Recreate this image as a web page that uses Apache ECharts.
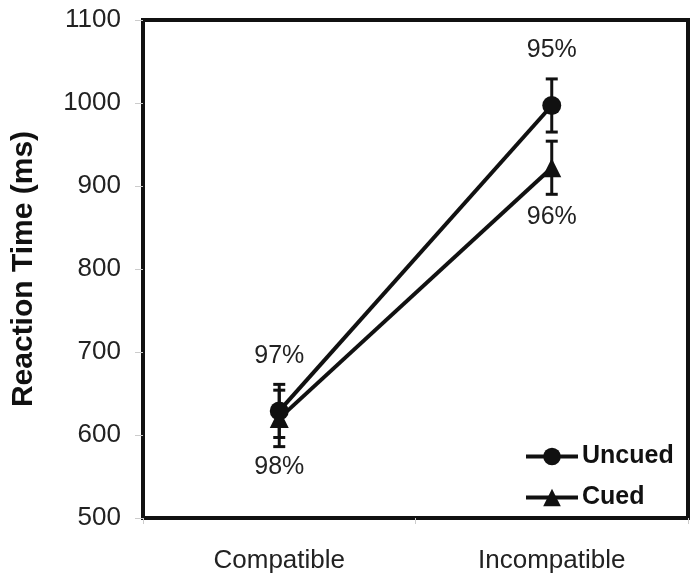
<!DOCTYPE html>
<html>
<head>
<meta charset="utf-8">
<script src="https://cdn.jsdelivr.net/npm/echarts@6/dist/echarts.min.js"></script>
<style>html,body{margin:0;padding:0;background:#fff}#c{width:700px;height:588px}</style>
</head>
<body>
<div id="c"></div>
<script>
const categories = ['Compatible', 'Incompatible'];
const uncuedMean = [629, 997];
const uncuedErr = [32, 32];
const uncuedAcc = ['97%', '95%'];
const cuedMean = [620, 922];
const cuedErr = [34, 32];
const cuedAcc = ['98%', '96%'];
const yTicks = [500, 600, 700, 800, 900, 1000, 1100];

const chart = echarts.init(document.getElementById('c'), null, {renderer: 'canvas'});
const font = 'Liberation Sans, Arial, sans-serif';

function errSeries(name, mean, err) {
  return {
    name: name + ' err',
    type: 'custom',
    z: 1,
    data: mean.map((m, i) => [i, m - err[i], m + err[i]]),
    renderItem: function (params, api) {
      const lo = api.coord([api.value(0), api.value(1)]);
      const hi = api.coord([api.value(0), api.value(2)]);
      const hw = 6;
      const st = {stroke: '#111', lineWidth: 3};
      return {type: 'group', children: [
        {type: 'line', shape: {x1: lo[0], y1: lo[1], x2: hi[0], y2: hi[1]}, style: st},
        {type: 'line', shape: {x1: lo[0] - hw, y1: lo[1], x2: lo[0] + hw, y2: lo[1]}, style: st},
        {type: 'line', shape: {x1: hi[0] - hw, y1: hi[1], x2: hi[0] + hw, y2: hi[1]}, style: st}
      ]};
    }
  };
}

chart.setOption({
  animation: false,
  backgroundColor: '#fff',
  grid: {left: 143, right: 12, top: 20, bottom: 70, show: true, borderColor: '#111', borderWidth: 4, backgroundColor: 'transparent'},
  legend: {
    orient: 'vertical', left: 524, top: 444, padding: 0, itemWidth: 52, itemHeight: 22, itemGap: 16,
    data: ['Uncued', 'Cued'],
    lineStyle: {width: 4, color: '#111'},
    textStyle: {fontFamily: font, fontSize: 25, fontWeight: 'bold', color: '#111', padding: [0, 0, 0, -1]}
  },
  xAxis: {
    type: 'category', data: categories, boundaryGap: true,
    axisLine: {show: false},
    axisTick: {show: true, length: 6, lineStyle: {color: '#ccc'}},
    axisLabel: {fontFamily: font, fontSize: 26, color: '#222', margin: 30}
  },
  yAxis: {
    type: 'value', min: yTicks[0], max: yTicks[yTicks.length - 1], interval: 100,
    name: 'Reaction Time (ms)', nameLocation: 'middle', nameGap: 104,
    nameTextStyle: {fontFamily: font, fontSize: 30, fontWeight: 'bold', color: '#111'},
    axisLine: {show: false},
    axisTick: {show: true, length: 8, lineStyle: {color: '#ccc'}},
    splitLine: {show: false},
    axisLabel: {fontFamily: font, fontSize: 26, color: '#222', margin: 22, formatter: v => String(v)}
  },
  series: [
    errSeries('Uncued', uncuedMean, uncuedErr),
    errSeries('Cued', cuedMean, cuedErr),
    {
      name: 'Uncued', type: 'line', z: 3, data: uncuedMean,
      symbol: 'circle', symbolSize: 19,
      lineStyle: {color: '#111', width: 4}, itemStyle: {color: '#111'},
      label: {show: true, position: 'top', distance: 33, formatter: p => uncuedAcc[p.dataIndex],
        fontFamily: font, fontSize: 25, color: '#222'}
    },
    {
      name: 'Cued', type: 'line', z: 3, data: cuedMean,
      symbol: 'triangle', symbolSize: 19,
      lineStyle: {color: '#111', width: 4}, itemStyle: {color: '#111'},
      label: {show: true, position: 'bottom', distance: 27, formatter: p => cuedAcc[p.dataIndex],
        fontFamily: font, fontSize: 25, color: '#222'}
    }
  ]
});
</script>
</body>
</html>
